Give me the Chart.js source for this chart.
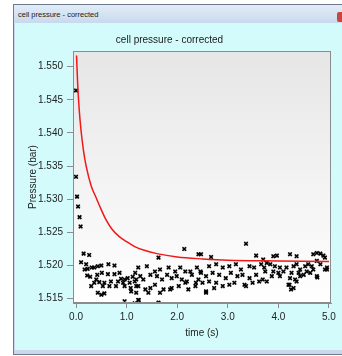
<!DOCTYPE html>
<html>
<head>
<meta charset="utf-8">
<script src="https://cdn.jsdelivr.net/npm/chart.js@4"></script>
<style>
  body { margin: 0; background: #fff; width: 342px; height: 356px; overflow: hidden; position: relative; font-family: "Liberation Sans", Arial, sans-serif; }
  #win { position: absolute; left: 13px; top: 4px; width: 340px; height: 349px; border: 1px solid #6d7b8c; background: #c9d8ea; }
  #bar { position: absolute; left: 0; top: 0; right: 0; height: 18px; background: linear-gradient(#e2ecf7, #c8d9ee); }
  #bar span { position: absolute; left: 4px; top: 5px; font-size: 7.5px; color: #1b1b1b; }
  #close { position: absolute; left: 323px; top: 7px; width: 10px; height: 10px; background: #c8463c; border-radius: 2px; }
  #inner { position: absolute; left: 1px; top: 18px; width: 339px; height: 327px; background: #d3fbfb; }
  #wrap { position: absolute; left: 8px; top: 23px; width: 334px; height: 327px; }
</style>
</head>
<body>
<div id="win">
  <div id="bar"><span>cell pressure - corrected</span><div id="close"></div></div>
  <div id="inner"></div>
</div>
<div id="wrap"><canvas id="myChart" width="334" height="327"></canvas></div>
<script>
const chartTitle = "cell pressure - corrected";
const xTitle = "time (s)";
const yTitle = "Pressure (bar)";
const xTicks = [0, 1, 2, 3, 4, 5];
const yTicks = [1.515, 1.520, 1.525, 1.530, 1.535, 1.540, 1.545, 1.550];

// fitted (corrected) pressure curve
const curveT = [0.01, 0.03, 0.06, 0.10, 0.15, 0.20, 0.30, 0.40, 0.50, 0.60, 0.70, 0.85, 1.00, 1.15, 1.35, 1.60, 2.00, 2.50, 3.00, 4.00, 5.00];
const curveP = [1.5517, 1.5478, 1.5438, 1.5403, 1.5372, 1.5350, 1.5320, 1.5302, 1.5284, 1.5268, 1.5256, 1.5244, 1.5236, 1.5229, 1.5223, 1.5218, 1.5213, 1.5210, 1.5208, 1.5207, 1.5206];

// measured samples
const sampleT = [
  0.00, 0.00, 0.02, 0.04, 0.07, 0.09,
  0.15, 0.26, 0.10, 0.20, 0.17, 0.23, 0.31, 0.36, 0.43, 0.50, 0.64, 0.76,
  0.22, 0.28, 0.42, 0.51, 0.63, 0.76, 0.86, 0.89, 0.96, 1.02, 1.12, 1.19,
  0.40, 0.36, 0.46, 0.56, 0.69, 0.83, 0.93, 1.06, 1.16,
  0.30, 0.53, 0.66, 0.79, 0.96, 1.08, 1.19,
  0.43, 0.56, 0.50, 1.09, 1.19, 0.96, 1.16, 1.24,
  2.14, 2.42, 1.63, 1.23, 1.40, 1.56, 1.66, 1.83, 1.96, 2.06, 2.16, 2.26, 2.39, 2.46,
  1.17, 1.27, 1.33, 1.47, 1.60, 1.70, 1.80, 1.89, 1.99, 2.09, 2.19, 2.29, 2.42,
  1.23, 1.37, 1.47, 1.56, 1.73, 1.89, 2.03, 2.16, 2.36,
  1.43, 1.66, 1.86, 2.22, 1.23, 1.63,
  3.36, 2.67, 2.47, 3.56, 2.63, 2.77, 2.90, 3.03, 3.16, 3.26, 3.43, 3.52, 3.66, 3.72,
  2.47, 2.57, 2.70, 2.83, 2.96, 3.06, 3.19, 3.29, 3.43, 3.56, 3.69,
  2.50, 2.63, 2.77, 2.90, 3.03, 3.13, 3.36, 3.49, 3.62,
  2.57, 2.73, 2.57, 2.37, 3.33,
  3.90, 3.97, 4.23, 4.36, 4.69, 4.76, 4.83, 4.89, 4.92,
  3.70, 3.77, 3.84, 3.93, 4.03, 4.10, 4.16, 4.30, 4.36, 4.43, 4.53, 4.59, 4.66, 4.76, 4.83, 4.96,
  3.74, 3.90, 4.00, 4.26, 4.40, 4.50, 4.56, 4.69, 4.92,
  3.77, 3.87, 4.03, 4.23, 4.33, 4.43, 4.63,
  4.20, 4.30, 4.36, 4.76, 4.22, 4.25, 4.77, 4.96
];
const sampleP = [
  1.5464, 1.5334, 1.5304, 1.5289, 1.5273, 1.5259,
  1.5218, 1.5216, 1.5205, 1.5202, 1.5194, 1.5195, 1.5197, 1.5197, 1.5199, 1.5200, 1.5202, 1.5200,
  1.5185, 1.5183, 1.5186, 1.5189, 1.5187, 1.5187, 1.5189, 1.5180, 1.5179, 1.5181, 1.5183, 1.5179,
  1.5179, 1.5174, 1.5175, 1.5174, 1.5176, 1.5176, 1.5174, 1.5174, 1.5176,
  1.5169, 1.5169, 1.5169, 1.5169, 1.5169, 1.5166, 1.5169,
  1.5159, 1.5158, 1.5156, 1.5161, 1.5159, 1.5146, 1.5143, 1.5148,
  1.5225, 1.5217, 1.5212, 1.5197, 1.5199, 1.5191, 1.5194, 1.5197, 1.5191, 1.5197, 1.5191, 1.5191, 1.5197, 1.5191,
  1.5189, 1.5184, 1.5179, 1.5186, 1.5184, 1.5179, 1.5186, 1.5181, 1.5184, 1.5179, 1.5176, 1.5186, 1.5179,
  1.5169, 1.5164, 1.5166, 1.5171, 1.5164, 1.5166, 1.5169, 1.5174, 1.5169,
  1.5159, 1.5159, 1.5164, 1.5164, 1.5148, 1.5144,
  1.5233, 1.5213, 1.5217, 1.5215, 1.5199, 1.5202, 1.5197, 1.5199, 1.5202, 1.5194, 1.5199, 1.5197, 1.5202, 1.5197,
  1.5189, 1.5184, 1.5189, 1.5186, 1.5181, 1.5189, 1.5184, 1.5186, 1.5181, 1.5186, 1.5179,
  1.5174, 1.5176, 1.5174, 1.5169, 1.5171, 1.5174, 1.5169, 1.5174, 1.5176,
  1.5161, 1.5166, 1.5159, 1.5174, 1.5171,
  1.5214, 1.5215, 1.5217, 1.5214, 1.5217, 1.5219, 1.5218, 1.5215, 1.5212,
  1.5209, 1.5204, 1.5202, 1.5199, 1.5197, 1.5191, 1.5197, 1.5199, 1.5202, 1.5194, 1.5199, 1.5202, 1.5199, 1.5207, 1.5202, 1.5197,
  1.5191, 1.5191, 1.5189, 1.5189, 1.5189, 1.5186, 1.5191, 1.5194, 1.5194,
  1.5176, 1.5184, 1.5184, 1.5181, 1.5179, 1.5184, 1.5189,
  1.5171, 1.5166, 1.5176, 1.5184, 1.5171, 1.5164, 1.5182, 1.5194
];

const font10 = { family: "'Liberation Sans', Arial, sans-serif", size: 10 };
const grey = "#8c8c8c";
const samples = sampleT.map((t, i) => ({ x: t, y: sampleP[i] }));

// grey-to-white plot background and frame
const plotFrame = {
  id: "plotFrame",
  beforeDatasetsDraw(chart) {
    const { ctx, chartArea: a } = chart;
    const g = ctx.createLinearGradient(0, a.top, 0, a.bottom);
    g.addColorStop(0, "#e6e6e6");
    g.addColorStop(1, "#ffffff");
    ctx.save();
    ctx.fillStyle = g;
    ctx.fillRect(a.left, a.top, a.right - a.left, a.bottom - a.top);
    ctx.restore();
  },
  afterDraw(chart) {
    const { ctx, chartArea: a } = chart;
    ctx.save();
    ctx.strokeStyle = grey;
    ctx.lineWidth = 1;
    ctx.strokeRect(a.left + 0.5, a.top + 0.5, a.right - a.left - 1, a.bottom - a.top - 1);
    ctx.restore();
  }
};

const ctx = document.getElementById("myChart").getContext("2d");
new Chart(ctx, {
  type: "scatter",
  data: {
    datasets: [
      {
        type: "line",
        data: curveT.map((t, i) => ({ x: t, y: curveP[i] })),
        borderColor: "#f01818",
        borderWidth: 1.5,
        pointRadius: 0,
        cubicInterpolationMode: "monotone",
        order: 0
      },
      {
        // marker cross
        data: samples,
        pointStyle: "crossRot",
        pointRadius: 2.5,
        borderColor: "#000",
        backgroundColor: "#000",
        borderWidth: 1.5,
        order: 1
      },
      {
        // soft grey box behind each marker
        data: samples,
        pointStyle: "rect",
        pointRadius: 3,
        borderWidth: 0,
        backgroundColor: "rgba(0,0,0,0.18)",
        order: 2
      }
    ]
  },
  options: {
    responsive: false,
    animation: false,
    layout: { padding: { left: 0, right: 11, top: 0, bottom: 0 } },
    plugins: {
      legend: { display: false },
      tooltip: { enabled: false },
      title: {
        display: true,
        text: chartTitle,
        color: "#1a1a1a",
        font: { ...font10, weight: "normal" },
        padding: { top: 11, bottom: 5 }
      }
    },
    scales: {
      x: {
        type: "linear",
        min: -0.06,
        max: 5.04,
        afterBuildTicks: s => { s.ticks = xTicks.map(v => ({ value: v })); },
        afterFit: s => { s.height = 47; },
        ticks: { callback: v => v.toFixed(1), color: "#222", font: font10, padding: 3, maxRotation: 0 },
        grid: { drawOnChartArea: false, tickLength: 5, color: grey },
        border: { color: grey },
        title: { display: true, text: xTitle, color: "#222", font: font10, padding: { top: 0, bottom: 11 } }
      },
      y: {
        min: 1.51435,
        max: 1.55237,
        afterBuildTicks: s => { s.ticks = yTicks.map(v => ({ value: v })); },
        afterFit: s => { s.width = 65; },
        ticks: { callback: v => v.toFixed(3), color: "#222", font: { family: "'Liberation Sans Narrow', 'Liberation Sans', Arial, sans-serif", size: 10 }, padding: 4 },
        grid: { drawOnChartArea: false, tickLength: 6, color: grey },
        border: { color: grey },
        title: { display: true, text: yTitle, color: "#222", font: font10, padding: { top: 19, bottom: 0 } }
      }
    }
  },
  plugins: [plotFrame]
});
</script>
</body>
</html>
